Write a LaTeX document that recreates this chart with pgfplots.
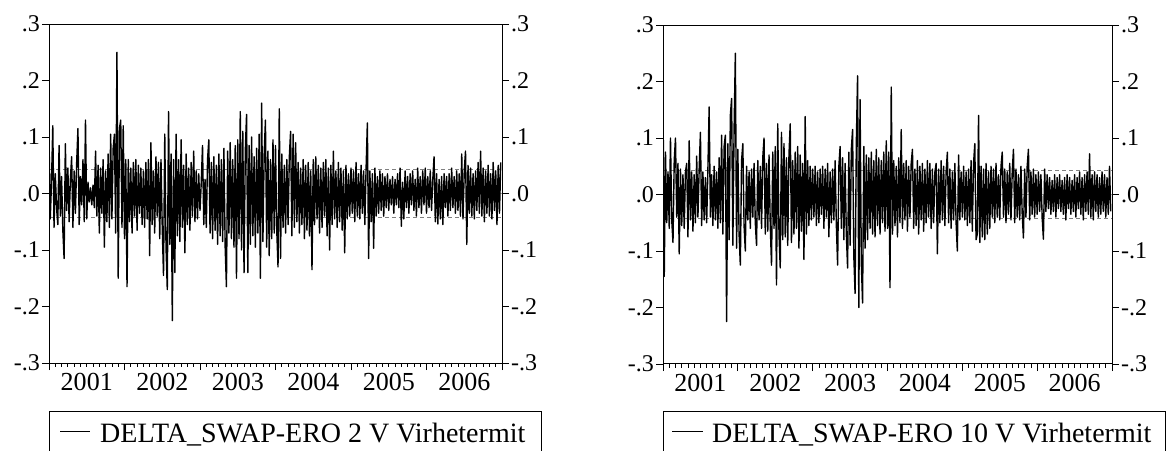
\documentclass[border=0pt]{standalone}
\usepackage{pgfplots}
\pgfplotsset{compat=1.18}
\usepackage{pgfplotstable}
\usepackage{fontspec}
\setmainfont{Liberation Serif}

% residuals, in thousandths, 60 observations per year from 2001 to 2006
\pgfplotstableread[row sep=\\]{y\\
100\\ -45\\ 20\\ 120\\ -60\\ 35\\ -25\\ -55\\ 85\\ -40\\ 30\\ -65\\ -115\\ 88\\ -30\\ 45\\ -50\\ 25\\ 65\\ -60\\ 40\\ -35\\ 55\\ 115\\ -55\\ 30\\ -20\\ 60\\ -50\\ 130\\
-45\\ 20\\ -15\\ 10\\ -20\\ 15\\ -25\\ 75\\ -40\\ 50\\ -70\\ 45\\ -35\\ 60\\ -95\\ 40\\ -50\\ 70\\ -60\\ 105\\ -45\\ 80\\ 105\\ -70\\ 250\\ -150\\ 115\\ 130\\ -60\\ 120\\
-80\\ 60\\ -165\\ 60\\ -50\\ 45\\ -70\\ 55\\ -40\\ 60\\ -65\\ 50\\ -35\\ 45\\ -55\\ 40\\ -60\\ 55\\ -45\\ 60\\ -110\\ 90\\ -55\\ 40\\ -70\\ 65\\ -40\\ 55\\ -80\\ 60\\
-60\\ -145\\ 105\\ -95\\ -170\\ 145\\ -90\\ 70\\ -225\\ 60\\ -140\\ 105\\ -75\\ 60\\ -85\\ 95\\ -60\\ 50\\ -105\\ 70\\ -55\\ 45\\ -65\\ 55\\ -40\\ 75\\ -50\\ 40\\ -45\\ 35\\
-30\\ 20\\ 85\\ -55\\ 25\\ -60\\ 60\\ 95\\ -70\\ 55\\ -80\\ 65\\ -65\\ 50\\ -90\\ 70\\ -75\\ 60\\ -85\\ 80\\ -95\\ -165\\ 75\\ -70\\ 90\\ -80\\ 60\\ -95\\ 85\\ -150\\
95\\ -80\\ 145\\ -100\\ 110\\ -140\\ 75\\ 140\\ -140\\ 85\\ -90\\ 100\\ -75\\ 65\\ -95\\ 80\\ -70\\ 105\\ -150\\ 160\\ -85\\ 70\\ 130\\ -95\\ 75\\ -110\\ 60\\ -80\\ 95\\ -70\\
85\\ -65\\ -130\\ 150\\ -115\\ 70\\ -60\\ 50\\ -70\\ 60\\ -55\\ 65\\ 110\\ -75\\ 105\\ -60\\ 90\\ -50\\ 55\\ -70\\ 45\\ -55\\ 60\\ -80\\ 50\\ -65\\ 55\\ -75\\ 40\\ -135\\
60\\ -55\\ 65\\ -45\\ 50\\ -70\\ 45\\ -60\\ 55\\ -40\\ 60\\ -75\\ 45\\ -100\\ 50\\ -55\\ 75\\ -45\\ 40\\ -60\\ 55\\ -50\\ 45\\ -65\\ 40\\ -105\\ 50\\ -45\\ 35\\ -40\\
45\\ -35\\ 40\\ -50\\ 55\\ -40\\ 35\\ -45\\ 50\\ -35\\ 40\\ -55\\ 45\\ 125\\ -115\\ 40\\ -50\\ 35\\ -97\\ 45\\ -40\\ 30\\ -35\\ 40\\ -30\\ 35\\ -40\\ 30\\ -25\\ 35\\
-30\\ 25\\ -20\\ 30\\ -35\\ 25\\ -20\\ 35\\ -25\\ 45\\ -58\\ 20\\ -45\\ 40\\ -25\\ 30\\ -35\\ 35\\ -20\\ 40\\ -30\\ 25\\ -40\\ 45\\ -25\\ 30\\ -35\\ 40\\ -20\\ 45\\
-35\\ 30\\ -25\\ 40\\ -30\\ 25\\ 65\\ -50\\ 35\\ -54\\ 25\\ -45\\ 30\\ -55\\ 35\\ -25\\ 30\\ -40\\ 35\\ -30\\ 45\\ -25\\ 30\\ -35\\ 40\\ -30\\ 35\\ -40\\ 70\\ -45\\
40\\ 75\\ -90\\ 50\\ -35\\ 45\\ -40\\ 35\\ -45\\ 40\\ -30\\ 55\\ -35\\ 75\\ -40\\ 45\\ -50\\ 40\\ -35\\ 50\\ -40\\ 35\\ -45\\ 55\\ -30\\ 40\\ -55\\ 50\\ -35\\ 55\\
}\dataA

\pgfplotstableread[row sep=\\]{y\\
170\\ -145\\ 75\\ -50\\ 40\\ -60\\ 100\\ -45\\ -85\\ 60\\ 100\\ -40\\ 55\\ -105\\ 45\\ -55\\ 35\\ -60\\ 40\\ 55\\ -75\\ 95\\ -45\\ 40\\ -65\\ 35\\ -50\\ 68\\ -40\\ 45\\
110\\ -55\\ 40\\ -45\\ 30\\ -50\\ 45\\ 155\\ -40\\ 35\\ -55\\ 50\\ -45\\ 40\\ -60\\ 65\\ -50\\ 105\\ -70\\ 85\\ 105\\ -225\\ 90\\ -80\\ 140\\ 170\\ -90\\ 115\\ 250\\ -95\\
80\\ -70\\ -125\\ 60\\ 90\\ -55\\ -100\\ 50\\ -45\\ 40\\ -60\\ 45\\ -40\\ 55\\ -50\\ -90\\ 60\\ -45\\ 50\\ -60\\ 65\\ 100\\ -70\\ 55\\ -65\\ 70\\ -55\\ -125\\ 75\\ -60\\
85\\ -160\\ 125\\ -70\\ -130\\ 110\\ -80\\ 90\\ -75\\ 65\\ -90\\ 70\\ 125\\ -85\\ 60\\ -70\\ 75\\ -60\\ 85\\ -95\\ 70\\ -65\\ 55\\ -115\\ 138\\ -70\\ 60\\ -55\\ 50\\ -45\\
45\\ -40\\ 50\\ -55\\ 40\\ -50\\ 45\\ -35\\ 50\\ -60\\ 45\\ -40\\ 55\\ -75\\ 40\\ -50\\ 45\\ -45\\ 60\\ -55\\ -125\\ 50\\ 85\\ -60\\ 65\\ -80\\ 55\\ -70\\ -130\\ 75\\
-90\\ 80\\ 115\\ -110\\ -175\\ 90\\ 210\\ -200\\ 168\\ -120\\ -192\\ 85\\ -95\\ 70\\ -80\\ 65\\ -60\\ 75\\ -70\\ 60\\ -75\\ 80\\ -55\\ 65\\ -70\\ 60\\ -50\\ 75\\ -65\\ 95\\
-60\\ 75\\ -165\\ 190\\ -70\\ 60\\ -55\\ 50\\ -75\\ 65\\ -50\\ 115\\ -60\\ 55\\ -45\\ 60\\ -65\\ 50\\ -40\\ 55\\ 80\\ -60\\ 45\\ -55\\ 60\\ -70\\ 50\\ -45\\ 55\\ -65\\
45\\ -50\\ 60\\ -40\\ 55\\ -60\\ 45\\ -50\\ 40\\ 55\\ -105\\ 45\\ -50\\ 60\\ -45\\ 50\\ -55\\ 40\\ 75\\ -50\\ 45\\ -60\\ 40\\ -45\\ 55\\ -50\\ -100\\ 70\\ -45\\ 40\\
-40\\ 50\\ -45\\ 40\\ -55\\ 45\\ -50\\ 60\\ -65\\ 55\\ 90\\ -80\\ -70\\ 140\\ -85\\ 50\\ -75\\ 45\\ -80\\ 55\\ -70\\ 40\\ -60\\ 50\\ -40\\ 45\\ -50\\ 55\\ -40\\ 35\\
-45\\ 50\\ 75\\ -40\\ 45\\ -50\\ 40\\ -35\\ 55\\ -45\\ 40\\ 80\\ -50\\ 45\\ -40\\ 35\\ -45\\ 50\\ -35\\ -77\\ 45\\ -40\\ 50\\ 80\\ -45\\ 40\\ -35\\ 45\\ -40\\ 35\\
-35\\ 40\\ -30\\ 35\\ -40\\ -79\\ 45\\ -30\\ 35\\ -25\\ 30\\ -35\\ 25\\ -30\\ 35\\ -40\\ 30\\ -25\\ 35\\ -30\\ 25\\ -35\\ 30\\ -45\\ 35\\ -25\\ 30\\ -35\\ 25\\ -30\\
35\\ -40\\ 30\\ -25\\ 40\\ -35\\ 30\\ -45\\ 35\\ -30\\ 40\\ -35\\ 72\\ -40\\ 35\\ -45\\ 40\\ -30\\ 35\\ -40\\ 30\\ -35\\ 40\\ -30\\ 35\\ -40\\ 30\\ -35\\ 50\\ -30\\
}\dataB

\pgfplotsset{
  resaxis/.style={
    scale only axis,
    height=339pt,
    xmin=0, xmax=360,
    ymin=-300, ymax=300,
    axis line style={line width=1pt, black},
    tick align=outside,
    major tick length=7pt,
    minor tick length=3.5pt,
    every tick/.style={black, line width=0.8pt},
    ytick={-300,-200,-100,0,100,200,300},
    yticklabels={-.3,-.2,-.1,.0,.1,.2,.3},
    yticklabel style={font=\fontsize{24}{24}\selectfont, inner sep=2pt},
    /pgf/number format/assume math mode=true,
  },
  mainaxis/.style={
    resaxis,
    xtick={0,60,120,180,240,300,360},
    xticklabels={2001,2002,2003,2004,2005,2006},
    x tick label as interval,
    minor x tick num=11,
    xtick pos=bottom,
    ytick pos=left,
    xticklabel style={font=\fontsize{26}{26}\selectfont, inner sep=3pt},
  },
  rightaxis/.style={
    resaxis,
    hide x axis,
    ytick pos=right,
    yticklabel pos=right,
  },
}

\begin{document}
\begin{tikzpicture}[x=1pt,y=1pt]
\useasboundingbox (0,0) rectangle (1167,450);

% ---------------- left panel ----------------
\begin{axis}[mainaxis, at={(49pt,87pt)}, anchor=south west, width=453pt]
  \addplot[gray!70, line width=0.4pt] coordinates {(0,0) (360,0)};
  \addplot[gray, line width=0.6pt, dash pattern=on 4pt off 3pt] coordinates {(0,43) (360,43)};
  \addplot[gray, line width=0.6pt, dash pattern=on 4pt off 3pt] coordinates {(0,-43) (360,-43)};
  \addplot[black, line width=1.4pt, line join=round] table[x expr=\coordindex, y index=0] {\dataA};
\end{axis}
\begin{axis}[rightaxis, at={(49pt,87pt)}, anchor=south west, width=453pt]
  \addplot[draw=none] coordinates {(0,0)};
\end{axis}
\draw[line width=1pt] (49,39) rectangle (541,-20);
\draw[line width=1pt] (60,19) -- (90,19);
\node[anchor=base west, inner sep=0pt, font=\fontsize{28}{28}\selectfont] at (100,8) {DELTA\_SWAP-ERO 2 V Virhetermit};

% ---------------- right panel ----------------
\begin{axis}[mainaxis, at={(663pt,86pt)}, anchor=south west, width=449pt]
  \addplot[gray!70, line width=0.4pt] coordinates {(0,0) (360,0)};
  \addplot[gray, line width=0.6pt, dash pattern=on 4pt off 3pt] coordinates {(0,43) (360,43)};
  \addplot[gray, line width=0.6pt, dash pattern=on 4pt off 3pt] coordinates {(0,-43) (360,-43)};
  \addplot[black, line width=1.4pt, line join=round] table[x expr=\coordindex, y index=0] {\dataB};
\end{axis}
\begin{axis}[rightaxis, at={(663pt,86pt)}, anchor=south west, width=449pt]
  \addplot[draw=none] coordinates {(0,0)};
\end{axis}
\draw[line width=1pt] (663,39) rectangle (1165,-20);
\draw[line width=1pt] (672,19) -- (703,19);
\node[anchor=base west, inner sep=0pt, font=\fontsize{28}{28}\selectfont] at (712,8) {DELTA\_SWAP-ERO 10 V Virhetermit};
\end{tikzpicture}
\end{document}
